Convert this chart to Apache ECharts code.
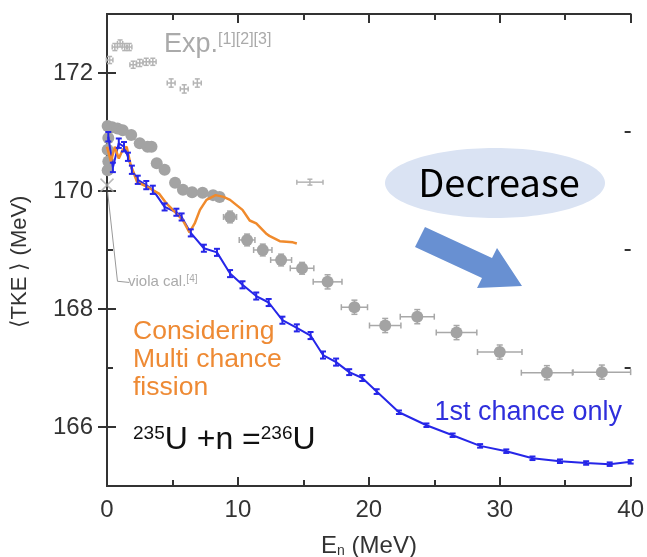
<!DOCTYPE html>
<html><head><meta charset="utf-8">
<script src="https://cdn.jsdelivr.net/npm/echarts@6/dist/echarts.min.js"></script>
<style>html,body{margin:0;padding:0;background:#fff}#c{width:647px;height:557px}</style>
</head><body><div id="c"></div>
<script>
// ---- data ----
const blueE   = [0.1,0.45,0.9,1.3,1.6,1.9,2.35,3.0,3.5,4.4,5.3,5.7,6.4,7.4,8.4,9.4,10.35,11.4,12.35,13.4,14.5,15.55,16.5,17.5,18.5,19.5,20.6,22.3,24.4,26.4,28.5,30.5,32.5,34.6,36.6,38.4,40];
const blueTKE = [170.92,170.4,170.81,170.75,170.58,170.36,170.19,170.1,170.02,169.73,169.64,169.56,169.29,169.03,168.96,168.6,168.41,168.22,168.11,167.81,167.68,167.55,167.22,167.1,166.93,166.83,166.6,166.25,166.03,165.86,165.68,165.59,165.47,165.42,165.39,165.37,165.41];
const blueErr = [0.08,0.08,0.08,0.08,0.07,0.07,0.07,0.07,0.07,0.06,0.06,0.06,0.06,0.06,0.06,0.06,0.06,0.06,0.06,0.06,0.06,0.06,0.06,0.06,0.05,0.05,0.04,0.03,0.03,0.03,0.03,0.03,0.03,0.03,0.03,0.03,0.03];

const multiE   = [0,0.3,0.6,0.9,1.2,1.5,1.8,2.3,3.0,4.0,4.5,5.3,5.8,6.3,6.7,7.1,7.6,8.3,8.9,9.4,10.35,10.9,11.4,12.2,12.4,13.2,14.2,14.5];
const multiTKE = [170.75,170.5,170.75,170.55,170.7,170.75,170.45,170.15,170.08,169.95,169.8,169.62,169.5,169.3,169.45,169.68,169.85,169.93,169.9,169.85,169.68,169.5,169.45,169.27,169.24,169.15,169.13,169.11];

const expCircE    = [0.05,0.1,0.05,0.1,0.05,0.4,0.8,1.2,1.85,2.5,3.1,3.4,3.8,4.4,5.2,5.8,6.5,7.3,8.1,8.6,9.4,10.7,11.9,13.3,14.9,16.85,18.9,21.25,23.7,26.7,30.0,33.6,37.8];
const expCircTKE  = [171.1,170.9,170.7,170.5,170.35,171.08,171.06,171.03,170.95,170.81,170.75,170.75,170.47,170.36,170.14,170.02,169.98,169.97,169.93,169.9,169.56,169.17,169.0,168.83,168.69,168.46,168.03,167.72,167.87,167.6,167.27,166.92,166.93];
const expCircXerr = [0,0,0,0,0,0,0,0,0,0,0,0,0,0,0,0,0,0,0,0,0.5,0.6,0.7,0.8,0.9,1.1,1.0,1.2,1.3,1.55,1.7,1.95,2.2];
const expCircYerr = [0,0,0,0,0,0,0,0,0,0,0,0,0,0,0,0,0,0,0,0,0.1,0.1,0.1,0.1,0.1,0.12,0.12,0.12,0.12,0.12,0.12,0.12,0.12];

const expPlusE    = [0.2,0.6,1.0,1.35,1.7,2.0,2.5,3.0,3.5,4.9,5.9,6.9,15.5];
const expPlusTKE  = [172.22,172.44,172.5,172.44,172.44,172.14,172.17,172.19,172.19,171.83,171.73,171.83,170.15];
const expPlusXerr = [0.25,0.2,0.2,0.2,0.2,0.25,0.25,0.25,0.25,0.3,0.3,0.3,1.0];
const expPlusYerr = [0.06,0.06,0.06,0.06,0.06,0.06,0.06,0.06,0.06,0.07,0.07,0.07,0.05];

const violaE = [0], violaTKE = [170.1];
const violaLeaderE = [0.05,0.8,1.7], violaLeaderTKE = [169.98,168.47,168.45];

const xMin = 0, xMax = 40, xInterval = 10;
const yMin = 165, yMax = 173;
const yMajorTicks = [166,168,170,172];
const yMinorTicks = [165,167,169,171,173];

// ---- build ----
const zip2 = (a,b)=>a.map((v,i)=>[v,b[i]]);
const zip4 = (a,b,c,d)=>a.map((v,i)=>[v,b[i],c[i],d[i]]);
const FONT = 'Liberation Sans, Arial, sans-serif';
const AX = '#333';

function errRender(color, cap, lw){
  return function(params, api){
    const x=api.value(0), y=api.value(1), xe=api.value(2), ye=api.value(3);
    const ch=[]; const st={stroke:color,lineWidth:lw};
    if (xe>0){
      const l=api.coord([x-xe,y]), r=api.coord([x+xe,y]);
      ch.push({type:'line',shape:{x1:l[0],y1:l[1],x2:r[0],y2:r[1]},style:st});
      ch.push({type:'line',shape:{x1:l[0],y1:l[1]-cap,x2:l[0],y2:l[1]+cap},style:st});
      ch.push({type:'line',shape:{x1:r[0],y1:r[1]-cap,x2:r[0],y2:r[1]+cap},style:st});
    }
    if (ye>0){
      const t=api.coord([x,y+ye]), b=api.coord([x,y-ye]);
      ch.push({type:'line',shape:{x1:t[0],y1:t[1],x2:b[0],y2:b[1]},style:st});
      ch.push({type:'line',shape:{x1:t[0]-cap,y1:t[1],x2:t[0]+cap,y2:t[1]},style:st});
      ch.push({type:'line',shape:{x1:b[0]-cap,y1:b[1],x2:b[0]+cap,y2:b[1]},style:st});
    }
    return {type:'group',children:ch};
  };
}

const baseX = {type:'value',min:xMin,max:xMax,interval:xInterval,splitLine:{show:false}};
const baseY = {type:'value',min:yMin,max:yMax,splitLine:{show:false}};

const option = {
  animation:false,
  grid:{left:107,right:16,top:14,bottom:71},
  xAxis:[
    Object.assign({},baseX,{position:'bottom',axisLine:{lineStyle:{color:AX,width:2}},
      axisTick:{inside:true,length:9,lineStyle:{color:AX,width:2}},
      minorTick:{show:true,splitNumber:2,length:6,lineStyle:{color:AX,width:2}},
      axisLabel:{fontSize:24,color:'#333',fontFamily:FONT,margin:12}}),
    Object.assign({},baseX,{position:'top',axisLine:{lineStyle:{color:AX,width:2}},
      axisTick:{inside:true,length:9,lineStyle:{color:AX,width:2}},
      minorTick:{show:true,splitNumber:2,length:6,lineStyle:{color:AX,width:2}},
      axisLabel:{show:false}})
  ],
  yAxis:[
    Object.assign({},baseY,{position:'left',axisLine:{lineStyle:{color:AX,width:2}},
      axisTick:{inside:true,length:9,customValues:yMajorTicks,lineStyle:{color:AX,width:2}},
      axisLabel:{customValues:yMajorTicks,fontSize:24,color:'#333',fontFamily:FONT,margin:14}}),
    Object.assign({},baseY,{position:'right',axisLine:{lineStyle:{color:AX,width:2}},
      axisTick:{inside:true,length:9,customValues:yMajorTicks,lineStyle:{color:AX,width:2}},
      axisLabel:{show:false}}),
    Object.assign({},baseY,{position:'left',axisLine:{show:false},
      axisTick:{inside:true,length:6,customValues:yMinorTicks,lineStyle:{color:AX,width:2}},
      axisLabel:{show:false}}),
    Object.assign({},baseY,{position:'right',axisLine:{show:false},
      axisTick:{inside:true,length:6,customValues:yMinorTicks,lineStyle:{color:AX,width:2}},
      axisLabel:{show:false}})
  ],
  series:[
    {type:'custom',name:'expPlus',renderItem:errRender('#b4b4b4',2.5,1.5),
     data:zip4(expPlusE,expPlusTKE,expPlusXerr,expPlusYerr),z:2},
    {type:'custom',name:'expCircErr',renderItem:errRender('#a8a8a8',3,1.5),
     data:zip4(expCircE,expCircTKE,expCircXerr,expCircYerr),z:2},
    {type:'scatter',name:'expCirc',data:zip2(expCircE,expCircTKE),symbol:'circle',symbolSize:12,
     itemStyle:{color:'#a3a3a3',opacity:1},z:3},
    {type:'line',name:'violaLeader',data:zip2(violaLeaderE,violaLeaderTKE),showSymbol:false,
     lineStyle:{color:'#999',width:1},z:3},
    {type:'scatter',name:'viola',data:zip2(violaE,violaTKE),
     symbol:'path://M0,0L10,10M10,0L0,10',symbolSize:13,
     itemStyle:{color:'none',borderColor:'#aaa',borderWidth:1.5},z:3},
    {type:'line',name:'1st chance',data:zip2(blueE,blueTKE),showSymbol:false,
     lineStyle:{color:'#2626e8',width:2},z:4},
    {type:'line',name:'multi',data:zip2(multiE,multiTKE),showSymbol:false,
     lineStyle:{color:'#f08a2c',width:2.5},z:5},
    {type:'custom',name:'blueErr',renderItem:errRender('#2626e8',3,2),
     data:zip4(blueE,blueTKE,blueE.map(()=>0),blueErr),z:6}
  ],
  graphic:[
    {type:'ellipse',shape:{cx:495,cy:183,rx:110,ry:35},style:{fill:'#dae3f3'},z:10},
    {type:'text',x:499,y:183,style:{text:'Decrease',font:'38px "Noto Sans CJK JP", sans-serif',fill:'#000',align:'center',verticalAlign:'middle'},z:11},
    {type:'polygon',shape:{points:[[425,227],[492,258],[497,248],[522,286],[477,288],[482,278],[415,247]]},style:{fill:'#6890d2'},z:10},
    {type:'text',x:164,y:45,style:{text:'{a|Exp.}{s|[1][2][3]}',rich:{a:{fontSize:27,fontFamily:FONT,fill:'#aaa',verticalAlign:'bottom'},s:{fontSize:16,fontFamily:FONT,fill:'#aaa',verticalAlign:'top'}},verticalAlign:'middle'},z:10},
    {type:'text',x:128,y:282,style:{text:'{a|viola cal.}{s|[4]}',rich:{a:{fontSize:15,fontFamily:FONT,fill:'#aaa',verticalAlign:'bottom'},s:{fontSize:10,fontFamily:FONT,fill:'#aaa',verticalAlign:'top'}},verticalAlign:'middle'},z:10},
    {type:'text',x:133,y:318,style:{text:'Considering\nMulti chance\nfission',font:'26.5px '+FONT,fill:'#ee8a34',lineHeight:28},z:10},
    {type:'text',x:622,y:413,style:{text:'1st chance only',font:'27px '+FONT,fill:'#2f2fdc',align:'right',verticalAlign:'middle'},z:10},
    {type:'text',x:133,y:440,style:{text:'{s|235}{a|U +n =}{s|236}{a|U}',rich:{a:{fontSize:32,fontFamily:FONT,fill:'#111',verticalAlign:'bottom'},s:{fontSize:19,fontFamily:FONT,fill:'#111',verticalAlign:'top'}},verticalAlign:'middle'},z:10},
    {type:'text',x:369,y:546,style:{text:'{a|E}{s|n}{a| (MeV)}',rich:{a:{fontSize:24,fontFamily:FONT,fill:'#333',verticalAlign:'top'},s:{fontSize:14,fontFamily:FONT,fill:'#333',verticalAlign:'bottom'}},align:'center',verticalAlign:'middle'},z:10},
    {type:'text',x:20,y:262,rotation:Math.PI/2,style:{text:'\u27E8TKE \u27E9 (MeV)',font:'22px '+FONT,fill:'#333',align:'center',verticalAlign:'middle'},z:10}
  ]
};
const chart = echarts.init(document.getElementById('c'),null,{renderer:'canvas'});
chart.setOption(option);
</script></body></html>
